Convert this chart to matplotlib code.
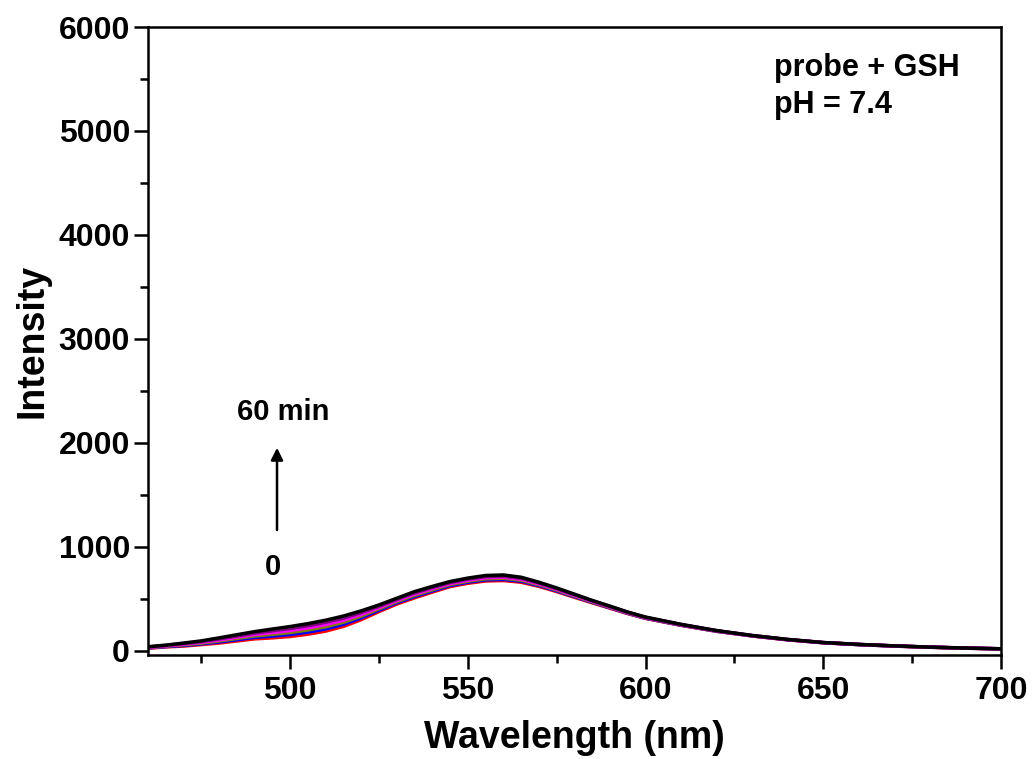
# Fluoreszenzspektren probe + GSH, pH 7.4
import matplotlib
matplotlib.use("Agg")
import matplotlib.pyplot as plt
from matplotlib.ticker import MultipleLocator

plt.rcParams['font.family'] = ['Liberation Sans', 'DejaVu Sans']
plt.rcParams['font.weight'] = 'bold'

# Daten
wavelength = [460, 465, 470, 475, 480, 485, 490, 495, 500, 505, 510, 515, 520,
              525, 530, 535, 540, 545, 550, 555, 560, 565, 570, 575, 580, 585,
              590, 595, 600, 610, 620, 630, 640, 650, 660, 670, 680, 690, 700]

int_0 = [25, 38, 46, 60, 75, 95, 115, 125, 138, 160, 190, 235, 300,
         378, 450, 510, 565, 618, 650, 672, 676, 660, 620, 570, 515, 462,
         410, 358, 312, 245, 188, 143, 106, 78, 60, 46, 35, 26, 19]
int_15 = [28, 41, 52, 67, 85, 107, 129, 142, 157, 180, 211, 255, 317,
          391, 462, 522, 576, 628, 660, 683, 687, 670, 628, 577, 521, 467,
          414, 361, 314, 247, 189, 144, 107, 78, 60, 46, 35, 26, 19]
int_30 = [31, 45, 58, 74, 95, 119, 143, 159, 176, 201, 232, 275, 334,
          404, 473, 534, 587, 638, 670, 693, 698, 679, 636, 584, 527, 471,
          418, 364, 317, 249, 191, 145, 108, 79, 61, 47, 35, 26, 19]
int_45 = [34, 48, 64, 82, 105, 131, 157, 176, 196, 221, 253, 295, 351,
          416, 484, 546, 598, 647, 680, 704, 708, 689, 644, 591, 533, 476,
          422, 367, 319, 251, 192, 146, 108, 79, 61, 47, 36, 27, 20]
int_50 = [37, 52, 70, 89, 115, 143, 171, 193, 215, 242, 274, 315, 368,
          429, 495, 558, 609, 657, 690, 714, 719, 698, 652, 598, 539, 480,
          426, 370, 322, 253, 194, 147, 109, 80, 62, 48, 36, 27, 20]
int_60 = [40, 55, 75, 96, 125, 155, 185, 210, 234, 262, 295, 335, 385,
          442, 506, 570, 620, 667, 700, 725, 730, 708, 660, 605, 545, 485,
          430, 373, 325, 255, 195, 148, 110, 80, 62, 48, 36, 27, 20]

spectra = [int_0, int_15, int_30, int_45, int_50, int_60]
colors = ['red', 'blue', 'olive', 'magenta', 'purple', 'black']

fig = plt.figure(figsize=(10.32, 7.59), dpi=100)
ax = fig.add_axes([0.1434, 0.137, 0.8266, 0.8274])

for spec, col in zip(spectra, colors):
    ax.plot(wavelength, spec, color=col, linewidth=2.5)

ax.set_xlim(460, 700)
ax.set_ylim(-40, 6000)
ax.xaxis.set_major_locator(MultipleLocator(50))
ax.xaxis.set_minor_locator(MultipleLocator(25))
ax.yaxis.set_major_locator(MultipleLocator(1000))
ax.yaxis.set_minor_locator(MultipleLocator(500))
ax.tick_params(which='major', direction='out', length=10, width=1.8, labelsize=23, pad=5)
ax.tick_params(which='minor', direction='out', length=6, width=1.8)
ax.tick_params(axis='y', which='major', pad=3)
for sp in ax.spines.values():
    sp.set_linewidth(1.8)

ax.set_xlabel('Wavelength (nm)', fontsize=27, fontweight='bold', labelpad=10)
ax.set_ylabel('Intensity', fontsize=27, fontweight='bold', labelpad=6)

ax.text(636, 5610, 'probe + GSH', fontsize=22, fontweight='bold', va='center')
ax.text(636, 5250, 'pH = 7.4', fontsize=22, fontweight='bold', va='center')

ax.text(498, 2298, '60 min', fontsize=21, fontweight='bold', ha='center', va='center')
ax.annotate('', xy=(496.3, 1980), xytext=(496.3, 1135),
            arrowprops=dict(arrowstyle='-|>', color='black', lw=1.8, mutation_scale=18))
ax.text(495.2, 808, '0', fontsize=21, fontweight='bold', ha='center', va='center')

fig.savefig('out.png', dpi=100)
